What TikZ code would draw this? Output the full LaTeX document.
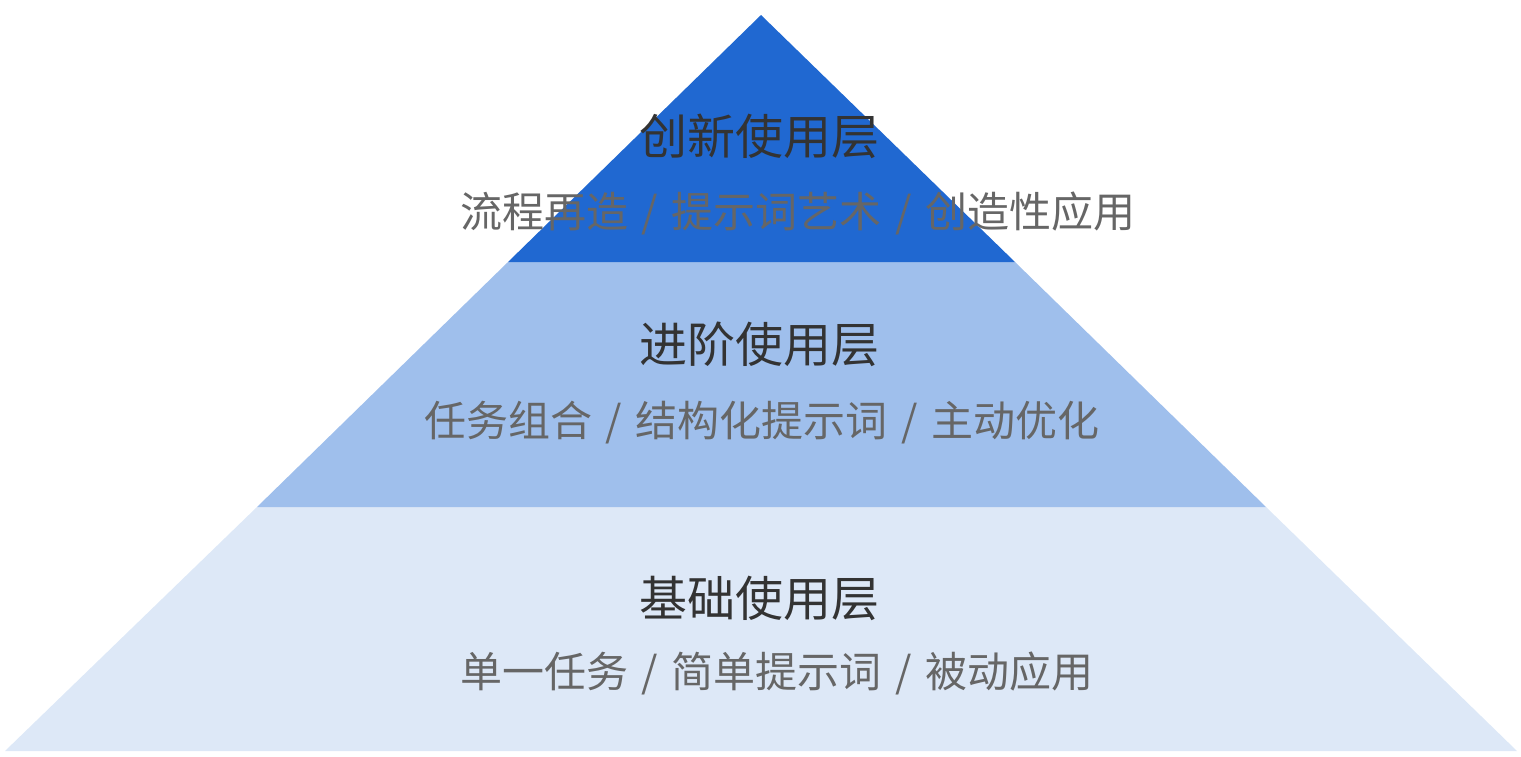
\documentclass[tikz,border=0pt]{standalone}
\usepackage{fontspec}
\setmainfont{Noto Sans CJK SC}
\definecolor{topblue}{RGB}{32,104,209}
\definecolor{midblue}{RGB}{159,191,236}
\definecolor{lowblue}{RGB}{221,232,247}
\definecolor{titlec}{RGB}{51,51,51}
\definecolor{subc}{RGB}{102,102,102}
\newcommand\slsep{ \kern4.3pt/\kern4.3pt{} }
\tikzset{
  layertitle/.style={font=\fontsize{48}{50}\selectfont, text=titlec, inner sep=0pt, anchor=center},
  layersub/.style={font=\fontsize{42}{44}\selectfont, text=subc, inner sep=0pt, anchor=center},
}
\begin{document}
\begin{tikzpicture}[x=1pt,y=-1pt]
\useasboundingbox (0,0) rectangle (1521,756);
\fill[lowblue] (257,507) -- (1266,507) -- (1517,751) -- (5,751) -- cycle;
\fill[midblue] (508,262) -- (1015,262) -- (1266,507) -- (257,507) -- cycle;
\fill[topblue] (761,15) -- (1015,262) -- (508,262) -- cycle;
\node[layertitle] (t1) at (759.5,136) {创新使用层};
\node[layersub] (s1) at (798,213) {流程再造\slsep 提示词艺术\slsep 创造性应用};
\node[layertitle] (t2) at (759.5,344) {进阶使用层};
\node[layersub] (s2) at (762,423) {任务组合\slsep 结构化提示词\slsep 主动优化};
\node[layertitle] (t3) at (759.5,598) {基础使用层};
\node[layersub] (s3) at (777,673) {单一任务\slsep 简单提示词\slsep 被动应用};
\end{tikzpicture}
\end{document}
